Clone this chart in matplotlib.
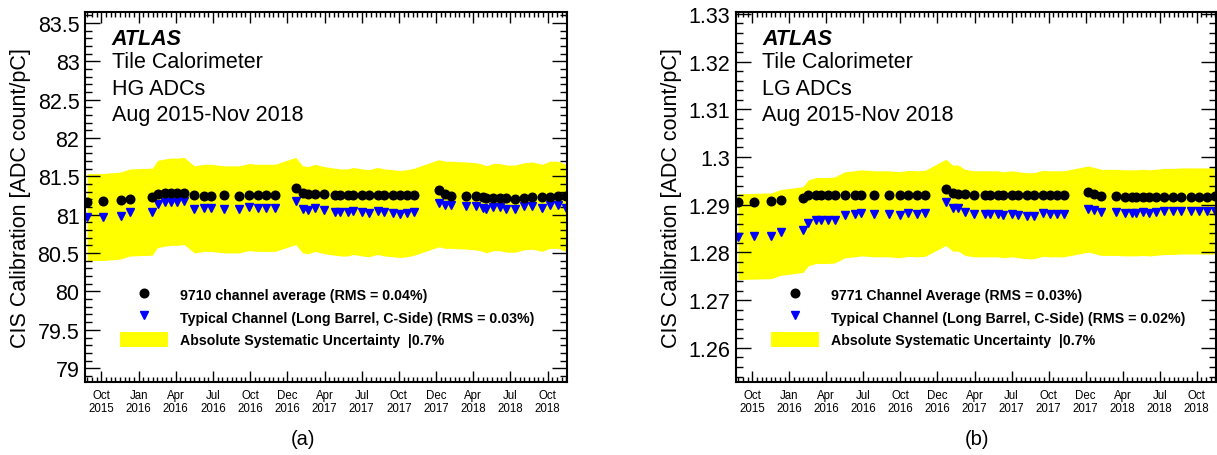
import numpy as np
import matplotlib
matplotlib.use("Agg")
import matplotlib.pyplot as plt
from matplotlib.ticker import FixedLocator, MultipleLocator, FuncFormatter
from matplotlib.lines import Line2D
from matplotlib.patches import Patch

plt.rcParams['font.family'] = ['Liberation Sans', 'DejaVu Sans']

# CIS calibration runs (same dates for both gains)
dates = ["2015-08-27", "2015-10-05", "2015-11-17", "2015-12-10",
         "2016-02-03", "2016-02-16", "2016-03-06", "2016-03-19", "2016-04-04",
         "2016-04-21", "2016-05-16", "2016-06-09", "2016-06-26", "2016-07-28",
         "2016-09-02", "2016-09-28", "2016-10-20", "2016-11-09", "2016-11-30",
         "2017-01-20", "2017-02-06", "2017-02-20", "2017-03-08", "2017-03-31",
         "2017-04-26", "2017-05-10", "2017-05-29", "2017-06-10", "2017-07-03",
         "2017-07-18", "2017-08-09", "2017-08-25", "2017-09-16", "2017-10-03",
         "2017-10-20", "2017-11-07",
         "2018-01-06", "2018-01-21", "2018-02-06", "2018-03-15", "2018-04-07",
         "2018-04-25", "2018-05-03", "2018-05-20", "2018-06-05", "2018-06-21",
         "2018-07-13", "2018-08-03", "2018-08-23", "2018-09-17", "2018-10-06",
         "2018-10-26", "2018-11-14"]

hg_avg = [81.17, 81.18, 81.19, 81.20,
          81.23, 81.27, 81.28, 81.28, 81.28, 81.28, 81.26, 81.25, 81.25, 81.26,
          81.25, 81.26, 81.26, 81.26, 81.26,
          81.345, 81.28, 81.27, 81.27, 81.27, 81.26, 81.26, 81.26, 81.26, 81.26,
          81.26, 81.26, 81.26, 81.26, 81.26, 81.26, 81.26,
          81.32, 81.27, 81.25, 81.24, 81.24, 81.23, 81.22, 81.22, 81.22, 81.22,
          81.21, 81.22, 81.23, 81.23, 81.23, 81.24, 81.24]

hg_typ = [80.97, 80.97, 80.99, 81.03,
          81.04, 81.14, 81.16, 81.17, 81.17, 81.18, 81.07, 81.09, 81.09, 81.07,
          81.07, 81.10, 81.09, 81.09, 81.09,
          81.18, 81.07, 81.06, 81.09, 81.06, 81.04, 81.03, 81.03, 81.05, 81.03,
          81.02, 81.05, 81.03, 81.02, 81.01, 81.02, 81.04,
          81.15, 81.13, 81.13, 81.12, 81.11, 81.09, 81.07, 81.10, 81.10, 81.08,
          81.08, 81.11, 81.12, 81.09, 81.13, 81.13, 81.09]

lg_avg = [1.2905, 1.2905, 1.2907, 1.2909,
          1.2914, 1.2921, 1.2921, 1.2921, 1.2921, 1.2921, 1.2921, 1.2921, 1.2921,
          1.2921, 1.2921, 1.2921, 1.2921, 1.2921, 1.2921,
          1.2932, 1.2924, 1.2923, 1.2922, 1.2921, 1.2921, 1.2921, 1.2921, 1.2921,
          1.2921, 1.2921, 1.2921, 1.2921, 1.2921, 1.2921, 1.2921, 1.2921,
          1.2927, 1.2923, 1.2919, 1.2918, 1.2917, 1.2917, 1.2916, 1.2917, 1.2916,
          1.2916, 1.2916, 1.2916, 1.2916, 1.2917, 1.2917, 1.2917, 1.2918]

lg_typ = [1.2833, 1.2834, 1.2835, 1.2842,
          1.2848, 1.2862, 1.2867, 1.2867, 1.2867, 1.2868, 1.2879, 1.2881, 1.2883,
          1.2881, 1.2881, 1.2879, 1.2882, 1.2881, 1.2882,
          1.2905, 1.2893, 1.2893, 1.2884, 1.2881, 1.2881, 1.2881, 1.2881, 1.2879,
          1.2881, 1.2879, 1.2877, 1.2877, 1.2882, 1.2881, 1.2881, 1.2881,
          1.2891, 1.2888, 1.2884, 1.2884, 1.2883, 1.2883, 1.2883, 1.2884, 1.2883,
          1.2884, 1.2886, 1.2886, 1.2887, 1.2887, 1.2887, 1.2887, 1.2887]

syst = 0.007  # absolute systematic uncertainty

tick_labels = ["Oct\n2015", "Jan\n2016", "Apr\n2016", "Jul\n2016", "Oct\n2016",
               "Dec\n2016", "Apr\n2017", "Jul\n2017", "Oct\n2017", "Dec\n2017",
               "Apr\n2018", "Jul\n2018", "Oct\n2018"]

day0 = np.datetime64("2015-10-01")
days = (np.array(dates, dtype="datetime64[D]") - day0).astype(float)
step = 91.3  # spacing of the time axis labels in days


def draw_panel(ax, avg, typ, ylim, major, minor, adc, avg_label, typ_label):
    avg = np.array(avg)
    typ = np.array(typ)
    ax.fill_between(days, typ * (1 - syst), typ * (1 + syst), color="#ffff00",
                    lw=0, zorder=1)
    ax.plot(days, avg, "o", color="black", ms=6.2, zorder=3)
    ax.plot(days, typ, "v", color="#0000ff", ms=6.2, zorder=2)

    ax.set_xlim(-0.44 * step, 12.52 * step)
    ax.set_ylim(*ylim)

    ax.xaxis.set_major_locator(FixedLocator(np.arange(len(tick_labels)) * step))
    ax.set_xticklabels(tick_labels, fontsize=8.3, linespacing=1.1)
    ax.xaxis.set_minor_locator(MultipleLocator(step / 8))
    ax.yaxis.set_major_locator(MultipleLocator(major))
    ax.yaxis.set_minor_locator(MultipleLocator(minor))
    ax.yaxis.set_major_formatter(FuncFormatter(lambda v, p: "%g" % round(v, 4)))

    ax.tick_params(which="both", direction="in", top=True, right=True, width=1)
    ax.tick_params(axis="y", which="major", length=10.5, labelsize=15.5, pad=4)
    ax.tick_params(axis="y", which="minor", length=5)
    ax.tick_params(axis="x", which="major", length=8, pad=5)
    ax.tick_params(axis="x", which="minor", length=3.5)
    for s in ax.spines.values():
        s.set_linewidth(1.5)

    ax.set_ylabel("CIS Calibration [ADC count/pC]", fontsize=15.5)
    ax.yaxis.set_label_coords(-0.112, 0.5)

    ax.text(0.055, 0.914, "ATLAS", transform=ax.transAxes, fontsize=15.5,
            fontweight="bold", fontstyle="italic")
    for txt, yy in [("Tile Calorimeter", 0.852), (adc, 0.779),
                    ("Aug 2015-Nov 2018", 0.709)]:
        ax.text(0.055, yy, txt, transform=ax.transAxes, fontsize=15.5)

    handles = [Line2D([], [], ls="none", marker="o", color="black", ms=6.2),
               Line2D([], [], ls="none", marker="v", color="#0000ff", ms=6.2),
               Patch(facecolor="#ffff00", edgecolor="none")]
    labels = [avg_label, typ_label, "Absolute Systematic Uncertainty  |0.7%"]
    ax.legend(handles, labels, loc="upper left", bbox_to_anchor=(0.073, 0.258),
              frameon=False, borderpad=0, borderaxespad=0, handlelength=3.4,
              handleheight=1.3, handletextpad=0.8, labelspacing=0.5,
              prop={"weight": "bold", "size": 10.2})


fig = plt.figure(figsize=(12.17, 4.56), dpi=100)
ax_a = fig.add_axes([85 / 1217, 73 / 456, 482 / 1217, 370 / 456])
ax_b = fig.add_axes([736 / 1217, 73 / 456, 480 / 1217, 370 / 456])

draw_panel(ax_a, hg_avg, hg_typ, (78.82, 83.643), 0.5, 0.1, "HG ADCs",
           "9710 channel average (RMS = 0.04%)",
           "Typical Channel (Long Barrel, C-Side) (RMS = 0.03%)")
draw_panel(ax_b, lg_avg, lg_typ, (1.25285, 1.3304), 0.01, 0.002, "LG ADCs",
           "9771 Channel Average (RMS = 0.03%)",
           "Typical Channel (Long Barrel, C-Side) (RMS = 0.02%)")

fig.text(303 / 1217, 1 - 440 / 456, "(a)", ha="center", va="center", fontsize=14.5)
fig.text(977 / 1217, 1 - 440 / 456, "(b)", ha="center", va="center", fontsize=14.5)

fig.savefig("out.png", dpi=100)
